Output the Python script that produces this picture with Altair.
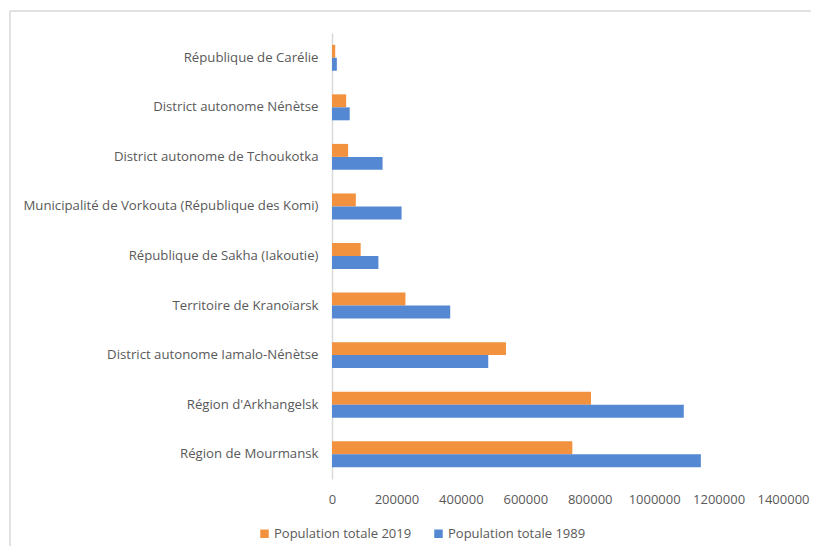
import altair as alt
import pandas as pd

categories = [
    "République de Carélie",
    "District autonome Nénètse",
    "District autonome de Tchoukotka",
    "Municipalité de Vorkouta (République des Komi)",
    "République de Sakha (Iakoutie)",
    "Territoire de Kranoïarsk ",
    "District autonome Iamalo-Nénètse",
    "Région d'Arkhangelsk ",
    "Région de Mourmansk",
]
pop_2019 = [10000, 44000, 50000, 74000, 89000, 228000, 540000, 804000, 746000]
pop_1989 = [15000, 55000, 157000, 216000, 144000, 367000, 485000, 1092000, 1145000]
series_names = ["Population totale 2019", "Population totale 1989"]
series_colors = ["#F2923F", "#5588D3"]
x_ticks = [0, 200000, 400000, 600000, 800000, 1000000, 1200000, 1400000]

rows = []
for c, a, b in zip(categories, pop_2019, pop_1989):
    rows.append({"region": c, "serie": series_names[0], "valeur": a})
    rows.append({"region": c, "serie": series_names[1], "valeur": b})
df = pd.DataFrame(rows)

FONT = "Open Sans"
GREY = "#595959"
FS = 13.2

bars = alt.Chart(df).mark_bar().encode(
    y=alt.Y("region:N", sort=categories, title=None,
            scale=alt.Scale(paddingInner=0.476, paddingOuter=0.238),
            axis=alt.Axis(domainColor="#d9d9d9", domainWidth=1.5, ticks=False,
                          labelPadding=14, labelColor=GREY, labelFontSize=FS,
                          labelFont=FONT, labelLimit=400, grid=False)),
    yOffset=alt.YOffset("serie:N", sort=series_names,
                        scale=alt.Scale(paddingInner=0, paddingOuter=0)),
    x=alt.X("valeur:Q", title=None,
            scale=alt.Scale(domain=[0, 1400000], nice=False),
            axis=alt.Axis(values=x_ticks, format="d", domain=False, ticks=False,
                          grid=False, labelPadding=14, labelColor=GREY,
                          labelFontSize=13, labelFont=FONT,
                          labelOverlap=False, labelFlush=False)),
    color=alt.Color("serie:N", sort=series_names,
                    scale=alt.Scale(domain=series_names, range=series_colors),
                    legend=alt.Legend(title=None, orient="none", direction="horizontal",
                                      legendX=-74, legendY=494, symbolType="square",
                                      symbolSize=72, symbolStrokeWidth=0,
                                      labelFont=FONT, labelFontSize=13,
                                      labelColor=GREY, labelOffset=3,
                                      columnPadding=20)),
)

frame_df = pd.DataFrame({"k": [0]})
frame_left = alt.Chart(frame_df).mark_rule(
    stroke="#d9d9d9", strokeWidth=1.5, clip=False
).encode(x=alt.value(-322), y=alt.value(-22), y2=alt.value(600))
frame_top = alt.Chart(frame_df).mark_rule(
    stroke="#d9d9d9", strokeWidth=1.5, clip=False
).encode(y=alt.value(-22), x=alt.value(-322), x2=alt.value(600))

chart = alt.layer(frame_left, frame_top, bars).properties(
    width=451, height=446,
    background="white",
    autosize=alt.AutoSizeParams(type="none"),
    padding={"left": 324, "top": 25, "right": 28, "bottom": 67},
).configure_view(strokeWidth=0, stroke="transparent")

chart.save("out.html", embed_options={"renderer": "svg", "actions": False})
